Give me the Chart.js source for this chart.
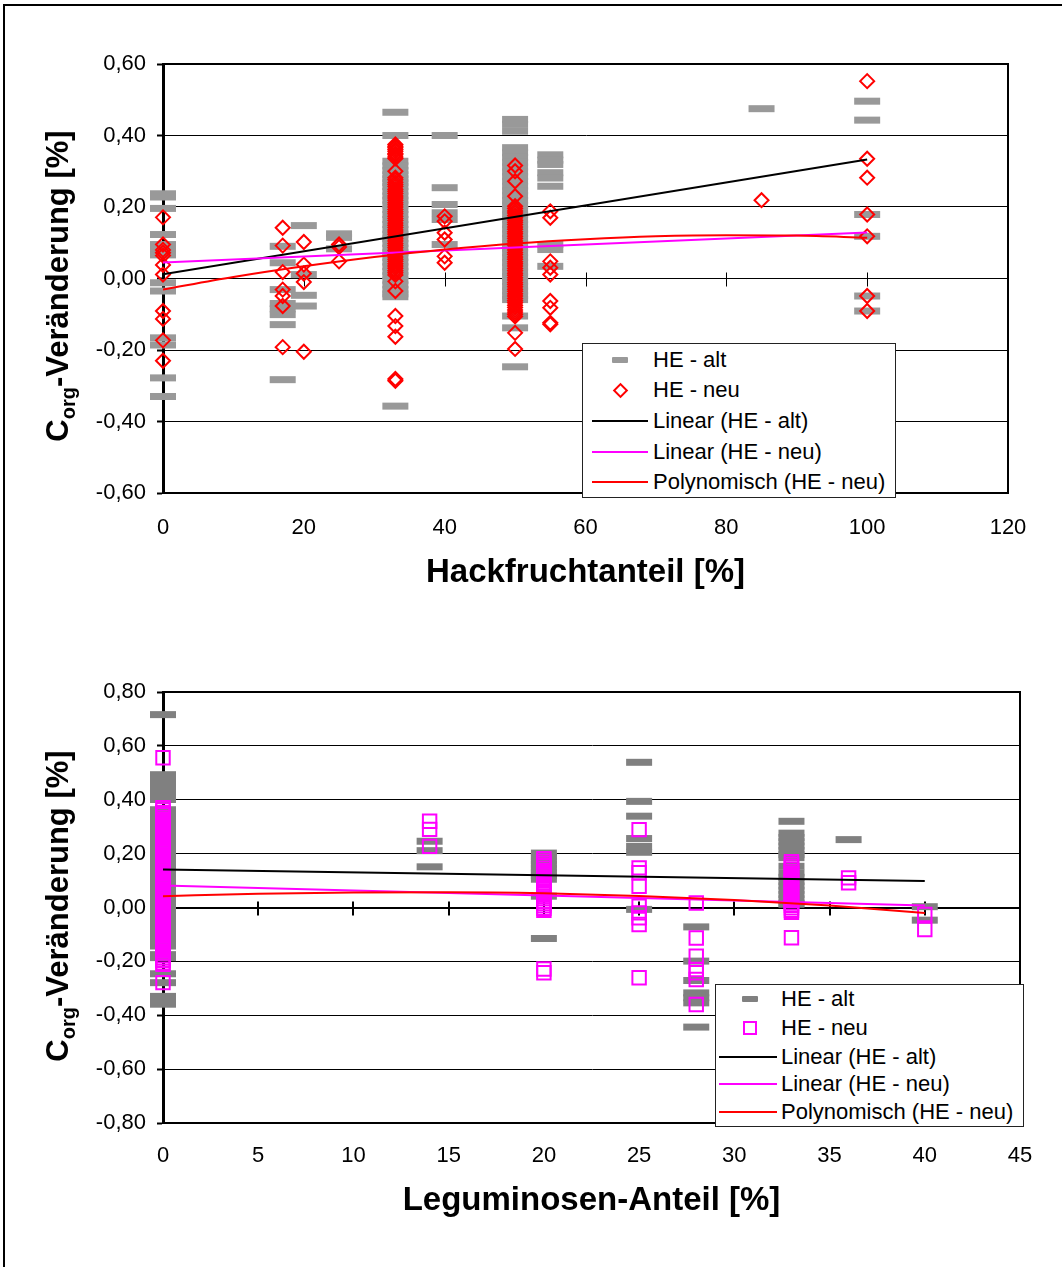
<!DOCTYPE html>
<html>
<head>
<meta charset="utf-8">
<script src="https://cdn.jsdelivr.net/npm/chart.js@4/dist/chart.umd.min.js"></script>
<style>
html,body{margin:0;padding:0;background:#fff;}
body{width:1062px;height:1267px;position:relative;overflow:hidden;font-family:"Liberation Sans",Arial,sans-serif;color:#000;}
#outer{position:absolute;left:3px;top:4px;width:1100px;height:1300px;border:2px solid #000;}
canvas{position:absolute;left:0;}
.xt{position:absolute;font-weight:bold;font-size:33px;text-align:center;line-height:40px;height:40px;white-space:nowrap;}
.yt{position:absolute;font-weight:bold;font-size:31px;text-align:center;line-height:40px;height:40px;width:400px;transform:rotate(-90deg);white-space:nowrap;}
.yt sub{font-size:20px;vertical-align:baseline;position:relative;top:7px;}
.lg{position:absolute;background:#fff;border:1px solid #222;box-sizing:border-box;}
.lt{position:absolute;font-size:22px;line-height:26px;white-space:nowrap;}
</style>
</head>
<body>
<div id="outer"></div>
<canvas id="c1" width="1062" height="620" style="top:0px"></canvas>
<canvas id="c2" width="1062" height="647" style="top:620px"></canvas>
<script>
// ---------- DATA: chart 1 (Hackfruchtanteil) ----------
const hackXTicks = [0, 20, 40, 60, 80, 100, 120];
const hackYTicks = [-0.6, -0.4, -0.2, 0, 0.2, 0.4, 0.6];
const hackPos = [0, 17, 20, 25, 33, 40, 50, 55, 85, 100];
const hackAlt = [
  [0.237, 0.228, 0.196, 0.123, 0.095, 0.078, 0.066, -0.012, -0.035, -0.166, -0.186, -0.278, -0.330],
  [0.090, 0.044, -0.031, -0.070, -0.085, -0.101, -0.129, -0.283],
  [0.148, 0.011, -0.047, -0.077],
  [0.125, 0.115, 0.083],
  [0.465, 0.400, 0.328, 0.315, 0.302, 0.290, 0.279, 0.268, 0.257, 0.244, 0.231, 0.219, 0.206, 0.193, 0.179, 0.165, 0.151, 0.137, 0.124, 0.111, 0.098, 0.085, 0.072, 0.059, 0.046, 0.033, 0.020, 0.008, -0.005, -0.018, -0.031, -0.043, -0.051, -0.357],
  [0.400, 0.254, 0.207, 0.184, 0.165, 0.095],
  [0.445, 0.431, 0.412, 0.366, 0.352, 0.339, 0.325, 0.312, 0.298, 0.285, 0.272, 0.258, 0.245, 0.232, 0.218, 0.205, 0.192, 0.178, 0.165, 0.151, 0.138, 0.125, 0.112, 0.098, 0.085, 0.072, 0.058, 0.045, 0.032, 0.018, 0.005, -0.008, -0.022, -0.035, -0.048, -0.059, -0.105, -0.138, -0.247],
  [0.346, 0.331, 0.319, 0.296, 0.281, 0.258, 0.095, 0.081, 0.034],
  [0.475],
  [0.496, 0.443, 0.179, 0.118, -0.049, -0.091]
];
const hackNeu = [
  [0.171, 0.095, 0.080, 0.072, 0.064, 0.038, 0.011, -0.091, -0.113, -0.173, -0.230],
  [0.142, 0.092, 0.018, -0.031, -0.049, -0.077, -0.192],
  [0.102, 0.039, 0.014, -0.010, -0.205],
  [0.095, 0.088, 0.048],
  [0.375, 0.370, 0.366, 0.361, 0.356, 0.350, 0.346, 0.340, 0.336, 0.300, 0.282, 0.276, 0.269, 0.263, 0.257, 0.250, 0.244, 0.238, 0.231, 0.225, 0.219, 0.212, 0.206, 0.200, 0.193, 0.187, 0.181, 0.174, 0.168, 0.162, 0.155, 0.149, 0.143, 0.136, 0.130, 0.124, 0.117, 0.111, 0.105, 0.098, 0.092, 0.086, 0.079, 0.073, 0.067, 0.060, 0.054, 0.048, 0.041, 0.035, 0.029, 0.022, 0.016, 0.010, -0.008, -0.035, -0.105, -0.133, -0.163, -0.281, -0.286],
  [0.174, 0.160, 0.128, 0.109, 0.062, 0.044],
  [0.316, 0.300, 0.272, 0.230, 0.202, 0.196, 0.189, 0.183, 0.176, 0.170, 0.163, 0.157, 0.151, 0.144, 0.138, 0.131, 0.125, 0.118, 0.112, 0.105, 0.099, 0.093, 0.086, 0.080, 0.073, 0.067, 0.060, 0.054, 0.047, 0.041, 0.035, 0.028, 0.022, 0.015, 0.009, 0.002, -0.004, -0.011, -0.017, -0.023, -0.030, -0.036, -0.043, -0.049, -0.056, -0.062, -0.068, -0.075, -0.081, -0.088, -0.094, -0.100, -0.106, -0.152, -0.197],
  [0.188, 0.170, 0.048, 0.030, 0.011, -0.063, -0.082, -0.124, -0.128],
  [0.219],
  [0.552, 0.335, 0.282, 0.179, 0.118, -0.049, -0.091]
];
const hackTrendX = [0, 100];
const hackLinAlt = [0.012, 0.333];
const hackLinNeu = [0.045, 0.129];
const hackPolyX = [0, 10, 20, 30, 40, 50, 60, 70, 80, 90, 100];
const hackPolyY = [-0.031, 0.004, 0.034, 0.060, 0.081, 0.098, 0.110, 0.118, 0.121, 0.120, 0.114];

// ---------- DATA: chart 2 (Leguminosen-Anteil) ----------
const legXTicks = [0, 5, 10, 15, 20, 25, 30, 35, 40, 45];
const legYTicks = [-0.8, -0.6, -0.4, -0.2, 0, 0.2, 0.4, 0.6, 0.8];
const legPos = [0, 14, 20, 25, 28, 33, 36, 40];
const legAlt = [
  [0.716, 0.493, 0.480, 0.466, 0.452, 0.439, 0.426, 0.413, 0.401, 0.363, 0.344, 0.325, 0.306, 0.287, 0.268, 0.249, 0.230, 0.211, 0.192, 0.173, 0.154, 0.135, 0.116, 0.097, 0.078, 0.059, 0.040, 0.021, 0.002, -0.017, -0.036, -0.055, -0.074, -0.093, -0.112, -0.131, -0.143, -0.175, -0.186, -0.246, -0.279, -0.330, -0.345, -0.359],
  [0.246, 0.211, 0.151],
  [0.202, 0.188, 0.174, 0.160, 0.146, 0.132, 0.118, 0.105, 0.042, -0.115],
  [0.539, 0.394, 0.339, 0.256, 0.227, 0.205, -0.007],
  [-0.072, -0.199, -0.271, -0.317, -0.335, -0.354, -0.444],
  [0.320, 0.276, 0.260, 0.244, 0.228, 0.212, 0.196, 0.185, 0.153, 0.128, 0.112, 0.096, 0.080, 0.064, 0.048, 0.032, 0.016, 0.012],
  [0.252],
  [0.003, -0.047]
];
const legNeu = [
  [0.556, 0.370, 0.362, 0.352, 0.344, 0.334, 0.326, 0.316, 0.307, 0.299, 0.289, 0.281, 0.271, 0.262, 0.254, 0.244, 0.236, 0.226, 0.217, 0.209, 0.199, 0.191, 0.181, 0.172, 0.164, 0.154, 0.146, 0.136, 0.127, 0.119, 0.109, 0.101, 0.091, 0.082, 0.074, 0.064, 0.056, 0.046, 0.037, 0.029, 0.019, 0.011, 0.001, -0.008, -0.016, -0.026, -0.034, -0.044, -0.053, -0.061, -0.071, -0.079, -0.089, -0.098, -0.106, -0.116, -0.124, -0.134, -0.143, -0.151, -0.161, -0.169, -0.179, -0.188, -0.196, -0.205, -0.211, -0.279],
  [0.320, 0.290, 0.227],
  [0.181, 0.172, 0.163, 0.155, 0.146, 0.137, 0.128, 0.120, 0.111, 0.102, 0.093, 0.085, 0.076, 0.067, 0.058, 0.050, 0.041, 0.032, 0.023, 0.015, 0.006, -0.003, -0.010, -0.228, -0.242],
  [0.289, 0.147, 0.129, 0.079, 0.005, -0.020, -0.038, -0.063, -0.261],
  [0.017, -0.113, -0.181, -0.230, -0.242, -0.267, -0.360],
  [0.170, 0.161, 0.152, 0.143, 0.134, 0.125, 0.116, 0.107, 0.098, 0.089, 0.080, 0.071, 0.062, 0.053, 0.044, 0.035, 0.026, 0.017, 0.008, -0.001, -0.010, -0.018, -0.112],
  [0.110, 0.092],
  [-0.026, -0.082]
];
const legTrendX = [0, 40];
const legLinAlt = [0.141, 0.098];
const legLinNeu = [0.082, 0.007];
const legPolyX = [0, 5, 10, 15, 20, 25, 30, 35, 40];
const legPolyY = [0.042, 0.051, 0.056, 0.057, 0.053, 0.043, 0.028, 0.007, -0.020];

const seriesLabels = ['HE - alt', 'HE - neu', 'Linear (HE - alt)', 'Linear (HE - neu)', 'Polynomisch (HE - neu)'];

// ---------- helpers ----------
const FONT = '"Liberation Sans", Arial, sans-serif';
function pts(pos, vals) {
  const out = [];
  pos.forEach((x, i) => vals[i].forEach(y => out.push({x: x, y: y})));
  return out;
}
function zip(xs, ys) { return xs.map((x, i) => ({x: x, y: ys[i]})); }
function fmtY(v) { return (Math.abs(v) < 1e-9 ? 0 : v).toFixed(2).replace('.', ','); }

const framePlugin = {
  id: 'frame',
  beforeDatasetsDraw(chart, args, opts) {
    const {ctx, chartArea: a} = chart;
    const xs = chart.scales.x, ys = chart.scales.y;
    ctx.save();
    ctx.strokeStyle = '#000';
    ctx.lineWidth = opts.frameWidth || 2;
    ctx.beginPath();
    ctx.moveTo(a.left, a.top);
    ctx.lineTo(a.right, a.top);
    ctx.lineTo(a.right, a.bottom);
    ctx.stroke();
    const y0 = Math.round(ys.getPixelForValue(0)) + 0.5;
    ctx.lineWidth = opts.zeroTickWidth || 1;
    ctx.beginPath();
    xs.ticks.forEach(t => {
      if (t.value === 0) return;
      const px = Math.round(xs.getPixelForValue(t.value)) + (opts.zeroTickWidth === 2 ? 0 : 0.5);
      ctx.moveTo(px, y0 - 7);
      ctx.lineTo(px, y0 + 7);
    });
    ctx.stroke();
    ctx.restore();
  }
};

function makeChart(id, cfg) {
  const tickFont = {family: FONT, size: 22};
  return new Chart(document.getElementById(id), {
    type: 'scatter',
    data: {datasets: [
      {label: seriesLabels[4], type: 'line', data: zip(cfg.polyX, cfg.polyY), borderColor: '#ff0000', borderWidth: 2, pointRadius: 0, pointHoverRadius: 0, tension: 0.4, cubicInterpolationMode: 'monotone', fill: false, order: 0},
      {label: seriesLabels[3], type: 'line', data: zip(cfg.trendX, cfg.linNeu), borderColor: '#ff00ff', borderWidth: 2, pointRadius: 0, pointHoverRadius: 0, fill: false, order: 1},
      {label: seriesLabels[2], type: 'line', data: zip(cfg.trendX, cfg.linAlt), borderColor: '#000000', borderWidth: 2, pointRadius: 0, pointHoverRadius: 0, fill: false, order: 2},
      {label: seriesLabels[1], data: pts(cfg.pos, cfg.neu), pointStyle: cfg.neuStyle, pointRadius: cfg.neuRadius, pointHoverRadius: cfg.neuRadius, borderColor: cfg.neuColor, borderWidth: 2, backgroundColor: 'rgba(0,0,0,0)', order: 3, clip: false},
      {label: seriesLabels[0], data: pts(cfg.pos, cfg.alt), pointStyle: 'line', pointRadius: 13, pointHoverRadius: 13, borderColor: cfg.altColor, borderWidth: 7, order: 4, clip: false}
    ]},
    options: {
      responsive: false,
      animation: false,
      events: [],
      layout: {padding: cfg.padding},
      plugins: {
        legend: {display: false},
        tooltip: {enabled: false},
        frame: {frameWidth: 2, zeroTickWidth: cfg.zeroTickWidth}
      },
      scales: {
        x: {
          type: 'linear', position: 'bottom', min: cfg.xTicks[0], max: cfg.xTicks[cfg.xTicks.length - 1],
          afterBuildTicks: s => { s.ticks = cfg.xTicks.map(v => ({value: v})); },
          afterFit: s => { s.height = cfg.xHeight; },
          grid: {display: false, drawTicks: false},
          border: {display: true, color: '#000', width: 2},
          ticks: {color: '#000', font: tickFont, padding: cfg.xPad, maxRotation: 0, autoSkip: false}
        },
        y: {
          type: 'linear', min: cfg.yTicks[0], max: cfg.yTicks[cfg.yTicks.length - 1],
          afterBuildTicks: s => { s.ticks = cfg.yTicks.map(v => ({value: v})); },
          afterFit: s => { s.width = 163; },
          grid: {color: '#000', lineWidth: c => (c.tick && Math.abs(c.tick.value) < 1e-9 ? cfg.zeroWidth : 1), drawTicks: true, tickLength: 6, tickWidth: 2, tickColor: '#000'},
          border: {display: true, color: '#000', width: 3},
          ticks: {color: '#000', font: tickFont, padding: 11, autoSkip: false, callback: v => fmtY(v)}
        }
      }
    },
    plugins: [framePlugin]
  });
}

makeChart('c1', {
  pos: hackPos, alt: hackAlt, neu: hackNeu,
  trendX: hackTrendX, linAlt: hackLinAlt, linNeu: hackLinNeu, polyX: hackPolyX, polyY: hackPolyY,
  xTicks: hackXTicks, yTicks: hackYTicks,
  neuStyle: 'rectRot', neuRadius: 7, neuColor: '#ff0000', altColor: '#999999',
  padding: {top: 64, right: 54, left: 0, bottom: 0}, xHeight: 127, xPad: 22,
  zeroWidth: 1, zeroTickWidth: 1
});
makeChart('c2', {
  pos: legPos, alt: legAlt, neu: legNeu,
  trendX: legTrendX, linAlt: legLinAlt, linNeu: legLinNeu, polyX: legPolyX, polyY: legPolyY,
  xTicks: legXTicks, yTicks: legYTicks,
  neuStyle: 'rect', neuRadius: 9.5, neuColor: '#ff00ff', altColor: '#808080',
  padding: {top: 72, right: 42, left: 0, bottom: 0}, xHeight: 144, xPad: 20,
  zeroWidth: 2, zeroTickWidth: 2
});

// ---------- titles ----------
function addDiv(cls, html, style) {
  const d = document.createElement('div');
  d.className = cls;
  d.innerHTML = html;
  Object.assign(d.style, style);
  document.body.appendChild(d);
  return d;
}
addDiv('xt', 'Hackfruchtanteil [%]', {left: '163px', width: '845px', top: '551px'});
addDiv('xt', 'Leguminosen-Anteil [%]', {left: '163px', width: '857px', top: '1179px'});
addDiv('yt', 'C<sub>org</sub>-Veränderung [%]', {left: (58 - 200) + 'px', top: (286 - 20) + 'px'});
addDiv('yt', 'C<sub>org</sub>-Veränderung [%]', {left: (58 - 200) + 'px', top: (906 - 20) + 'px'});

// ---------- legends ----------
function addLegend(cfg) {
  addDiv('lg', '', {left: cfg.left + 'px', top: cfg.top + 'px', width: cfg.width + 'px', height: cfg.height + 'px'});
  cfg.items.forEach((it, i) => {
    const cy = cfg.rows[i];
    addDiv('lt', '', {left: cfg.textX + 'px', top: (cy - 13) + 'px'}).textContent = seriesLabels[i];
    let st;
    if (it.kind === 'dash') {
      st = {left: (cfg.markX - 8) + 'px', top: (cy - 3) + 'px', width: '16px', height: '6px', background: it.color, borderRadius: '1px'};
    } else if (it.kind === 'diamond') {
      st = {left: (cfg.markX - 5.5) + 'px', top: (cy - 5.5) + 'px', width: '11px', height: '11px', boxSizing: 'border-box', border: '2px solid ' + it.color, transform: 'rotate(45deg)'};
    } else if (it.kind === 'square') {
      st = {left: (cfg.markX - 7) + 'px', top: (cy - 7) + 'px', width: '14px', height: '14px', boxSizing: 'border-box', border: '2px solid ' + it.color};
    } else {
      st = {left: cfg.lineX1 + 'px', top: (cy - 1) + 'px', width: (cfg.lineX2 - cfg.lineX1) + 'px', height: '2px', background: it.color};
    }
    st.position = 'absolute';
    addDiv('', '', st);
  });
}
addLegend({
  left: 582, top: 343, width: 314, height: 155,
  rows: [359.5, 390, 420.5, 451.5, 482], textX: 653, markX: 620, lineX1: 592, lineX2: 648,
  items: [{kind: 'dash', color: '#999999'}, {kind: 'diamond', color: '#ff0000'}, {kind: 'line', color: '#000000'}, {kind: 'line', color: '#ff00ff'}, {kind: 'line', color: '#ff0000'}]
});
addLegend({
  left: 715, top: 984, width: 309, height: 143,
  rows: [999, 1028, 1056.5, 1084, 1112], textX: 781, markX: 750, lineX1: 719, lineX2: 777,
  items: [{kind: 'dash', color: '#808080'}, {kind: 'square', color: '#ff00ff'}, {kind: 'line', color: '#000000'}, {kind: 'line', color: '#ff00ff'}, {kind: 'line', color: '#ff0000'}]
});
</script>
</body>
</html>
